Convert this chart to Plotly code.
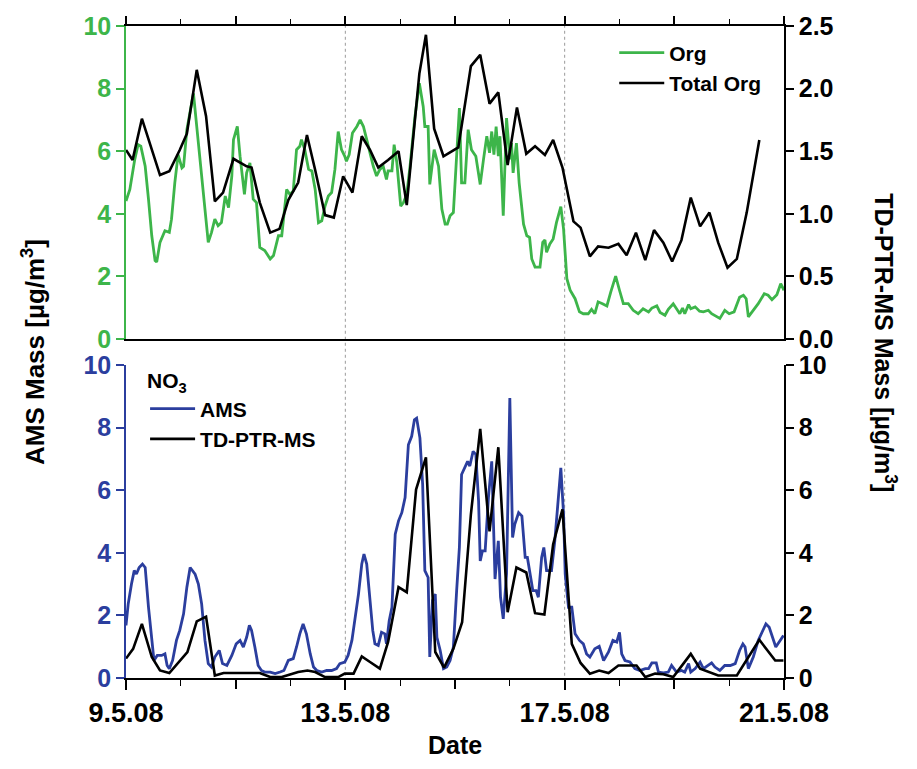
import plotly.graph_objects as go

# ---------------- data (x = day of May 2008) ----------------
org_day = [9.00, 9.07, 9.16, 9.22, 9.27, 9.35, 9.41, 9.47, 9.53, 9.56, 9.62, 9.71, 9.79, 9.83, 9.89, 9.95,
           10.02, 10.05, 10.11, 10.17, 10.23, 10.26, 10.32, 10.38, 10.44, 10.50, 10.56, 10.62, 10.68, 10.74,
           10.81, 10.87, 10.93, 10.96, 11.03, 11.08, 11.16, 11.20, 11.26, 11.32, 11.38, 11.44, 11.53, 11.63,
           11.69, 11.78, 11.84, 11.93, 11.99, 12.05, 12.11, 12.17, 12.20, 12.26, 12.33, 12.39, 12.45, 12.51,
           12.57, 12.63, 12.69, 12.75, 12.81, 12.87, 12.93, 12.99, 13.02, 13.07, 13.13, 13.21, 13.27, 13.33,
           13.39, 13.45, 13.51, 13.57, 13.63, 13.69, 13.75, 13.78, 13.85, 13.89, 13.94, 14.01, 14.06, 14.12,
           14.18, 14.27, 14.35, 14.42, 14.45, 14.51, 14.54, 14.62, 14.70, 14.76, 14.82, 14.86, 14.91, 14.97,
           15.02, 15.08, 15.12, 15.18, 15.24, 15.30, 15.38, 15.46, 15.52, 15.58, 15.63, 15.67, 15.71, 15.75,
           15.79, 15.82, 15.88, 15.94, 16.00, 16.03, 16.06, 16.12, 16.17, 16.25, 16.31, 16.36, 16.40, 16.46,
           16.55, 16.60, 16.64, 16.67, 16.73, 16.79, 16.85, 16.93, 16.98, 17.04, 17.10, 17.19, 17.27, 17.34,
           17.43, 17.49, 17.55, 17.61, 17.69, 17.77, 17.84, 17.93, 18.00, 18.07, 18.16, 18.25, 18.34, 18.43,
           18.53, 18.59, 18.68, 18.74, 18.83, 18.89, 18.98, 19.04, 19.10, 19.15, 19.19, 19.26, 19.30, 19.38,
           19.46, 19.53, 19.62, 19.68, 19.77, 19.83, 19.92, 20.00, 20.09, 20.19, 20.26, 20.31, 20.35, 20.44,
           20.53, 20.64, 20.71, 20.78, 20.87, 20.94, 21.00]
org_ams = [4.41, 4.78, 5.74, 6.21, 6.16, 5.52, 4.47, 3.30, 2.51, 2.46, 3.09, 3.46, 3.41, 3.83, 4.99, 5.89,
           5.47, 5.52, 6.69, 7.22, 7.85, 7.32, 6.26, 5.10, 3.94, 3.09, 3.41, 3.83, 3.62, 3.72,
           4.57, 4.20, 5.21, 6.37, 6.79, 5.84, 4.62, 5.31, 5.63, 4.47, 4.36, 2.93, 2.83, 2.56,
           2.67, 3.30, 3.30, 4.78, 4.62, 4.73, 6.05, 6.16, 6.37, 6.05, 5.42, 5.37, 4.78, 3.72,
           3.78, 4.25, 4.57, 4.68, 5.42, 6.63, 6.05, 5.84, 5.68, 5.89, 6.58, 6.79, 7.00, 6.79,
           6.37, 5.90, 5.52, 5.21, 5.42, 5.52, 5.10, 5.37, 5.37, 6.21, 5.63, 4.25, 4.36, 4.62,
           5.52, 7.11, 8.17, 7.43, 6.79, 6.79, 4.94, 6.05, 5.52, 4.15, 3.67, 3.67, 3.94, 4.04,
           5.63, 7.38, 4.99, 4.99, 6.69, 6.05, 5.84, 4.94, 5.74, 6.48, 5.95, 6.63, 5.89, 6.79,
           5.84, 6.48, 3.94, 7.06, 5.74, 6.26, 5.31, 6.26, 4.99, 3.67, 3.30, 3.25, 2.56, 2.30,
           2.30, 3.09, 3.17, 2.77, 3.04, 3.20, 3.72, 4.23, 3.51, 1.93, 1.56, 1.29, 0.87, 0.81,
           0.81, 0.95, 0.81, 1.19, 1.13, 1.06, 1.50, 2.01, 1.56, 1.13, 1.13, 0.92, 0.81, 0.97,
           0.87, 0.99, 1.06, 0.85, 0.76, 0.95, 1.13, 0.97, 0.81, 0.99, 0.81, 1.10, 0.97, 1.03,
           0.89, 0.87, 0.92, 0.81, 0.71, 0.66, 0.92, 0.81, 0.87, 1.34, 1.40, 1.29, 0.71, 0.92,
           1.13, 1.45, 1.40, 1.26, 1.42, 1.77, 1.56]

tot_day = [9.00, 9.12, 9.29, 9.62, 9.79, 9.98, 10.11, 10.29, 10.46, 10.62, 10.77, 10.96, 11.20, 11.29,
           11.44, 11.63, 11.80, 11.96, 12.14, 12.30, 12.45, 12.63, 12.79, 12.96, 13.13, 13.30, 13.45,
           13.60, 13.78, 13.97, 14.12, 14.35, 14.47, 14.62, 14.79, 15.06, 15.29, 15.46, 15.63, 15.79,
           15.96, 16.13, 16.30, 16.46, 16.64, 16.79, 16.96, 17.16, 17.29, 17.46, 17.61, 17.80, 17.98,
           18.13, 18.30, 18.47, 18.63, 18.80, 18.96, 19.13, 19.30, 19.47, 19.64, 19.80, 19.97, 20.14,
           20.32, 20.55]
tot_ptr = [1.51, 1.43, 1.76, 1.31, 1.34, 1.51, 1.64, 2.15, 1.78, 1.10, 1.17, 1.44, 1.38, 1.37,
           1.09, 0.85, 0.88, 1.11, 1.25, 1.63, 1.35, 0.99, 0.97, 1.30, 1.17, 1.62, 1.51,
           1.37, 1.43, 1.50, 1.07, 2.12, 2.43, 1.68, 1.46, 1.53, 2.18, 2.27, 1.88, 1.97,
           1.39, 1.85, 1.48, 1.54, 1.47, 1.59, 1.37, 0.94, 0.89, 0.66, 0.74, 0.73, 0.76,
           0.67, 0.85, 0.63, 0.87, 0.77, 0.62, 0.79, 1.13, 0.90, 1.01, 0.77, 0.57, 0.64,
           1.01, 1.59]

no3_ams_day = [9.00, 9.04, 9.10, 9.15, 9.19, 9.24, 9.30, 9.35, 9.41, 9.47, 9.51, 9.57, 9.65, 9.71, 9.75,
               9.79, 9.85, 9.92, 9.98, 10.05, 10.11, 10.17, 10.21, 10.26, 10.32, 10.38, 10.44, 10.50,
               10.56, 10.62, 10.70, 10.76, 10.84, 10.93, 11.01, 11.08, 11.14, 11.20, 11.25, 11.29, 11.35,
               11.41, 11.47, 11.53, 11.63, 11.72, 11.81, 11.88, 11.96, 12.05, 12.11, 12.17, 12.23, 12.29,
               12.36, 12.42, 12.48, 12.57, 12.66, 12.75, 12.84, 12.90, 12.99, 13.05, 13.12, 13.18, 13.24,
               13.30, 13.34, 13.39, 13.44, 13.50, 13.54, 13.60, 13.66, 13.72, 13.75, 13.80, 13.85, 13.91,
               13.97, 14.03, 14.09, 14.15, 14.21, 14.26, 14.30, 14.36, 14.41, 14.45, 14.51, 14.54, 14.59,
               14.64, 14.67, 14.73, 14.79, 14.85, 14.91, 14.97, 15.03, 15.08, 15.12, 15.18, 15.23, 15.27,
               15.33, 15.38, 15.43, 15.46, 15.50, 15.55, 15.61, 15.67, 15.73, 15.79, 15.83, 15.88, 15.94,
               16.00, 16.05, 16.09, 16.16, 16.22, 16.28, 16.32, 16.36, 16.42, 16.48, 16.52, 16.58, 16.62,
               16.67, 16.76, 16.82, 16.88, 16.93, 16.98, 17.01, 17.07, 17.13, 17.19, 17.27, 17.34, 17.40,
               17.46, 17.55, 17.63, 17.71, 17.80, 17.88, 17.95, 18.00, 18.04, 18.10, 18.19, 18.28, 18.37,
               18.47, 18.53, 18.59, 18.67, 18.71, 18.80, 18.89, 18.95, 19.04, 19.13, 19.19, 19.26, 19.30,
               19.38, 19.47, 19.53, 19.62, 19.68, 19.74, 19.83, 19.92, 20.02, 20.11, 20.19, 20.25, 20.29,
               20.35, 20.44, 20.53, 20.61, 20.67, 20.73, 20.79, 20.85, 20.93, 20.99]
no3_ams = [1.68, 2.36, 3.00, 3.43, 3.32, 3.53, 3.64, 3.53, 2.26, 1.20, 0.56, 0.72, 0.72, 0.77, 0.40,
           0.30, 0.56, 1.20, 1.52, 2.05, 2.90, 3.53, 3.43, 3.32, 3.00, 2.36, 1.20, 0.46,
           0.35, 0.67, 0.88, 0.46, 0.40, 0.72, 1.09, 1.20, 0.99, 1.30, 1.68, 1.52, 0.99,
           0.40, 0.24, 0.19, 0.19, 0.14, 0.19, 0.24, 0.56, 0.62, 0.99, 1.41, 1.73, 1.41,
           0.77, 0.35, 0.24, 0.19, 0.24, 0.24, 0.30, 0.46, 0.51, 0.72, 1.20, 1.89, 2.68,
           3.64, 3.96, 3.64, 2.58, 1.52, 1.09, 1.04, 1.46, 1.41, 1.09, 1.83, 2.26, 4.59,
           5.02, 5.28, 5.76, 7.45, 7.72, 8.25, 8.30, 7.67, 6.18, 3.43, 3.21, 0.67, 2.47,
           2.68, 1.30, 0.88, 0.30, 0.35, 0.56, 0.99, 2.79, 4.17, 6.50, 6.71, 6.92, 6.77,
           7.24, 7.14, 5.65, 3.74, 4.06, 4.06, 5.76, 6.92, 3.16, 4.38, 2.58, 1.89, 3.32,
           8.94, 4.49, 4.91, 5.28, 5.17, 3.85, 3.85, 3.43, 2.79, 2.79, 2.58, 3.85, 4.17,
           3.43, 3.43, 4.38, 5.76, 6.71, 5.23, 3.32, 2.26, 2.26, 1.41, 1.20, 1.09, 0.77,
           0.67, 0.93, 1.01, 0.56, 0.83, 1.20, 1.15, 1.46, 0.77, 0.56, 0.51, 0.30, 0.24,
           0.30, 0.30, 0.48, 0.48, 0.19, 0.16, 0.19, 0.40, 0.19, 0.24, 0.19, 0.46, 0.19,
           0.30, 0.51, 0.30, 0.40, 0.48, 0.35, 0.24, 0.40, 0.40, 0.46, 0.88, 1.09, 0.99,
           0.30, 0.67, 1.20, 1.52, 1.73, 1.62, 1.30, 0.99, 1.20, 1.36]

no3_ptr_day = [9.00, 9.13, 9.29, 9.47, 9.62, 9.79, 10.12, 10.29, 10.46, 10.62, 10.78, 11.44, 11.63, 11.84,
               12.14, 12.31, 12.45, 12.63, 12.87, 12.99, 13.15, 13.30, 13.45, 13.63, 13.78, 13.97, 14.12,
               14.29, 14.47, 14.64, 14.80, 14.97, 15.13, 15.29, 15.46, 15.63, 15.79, 15.96, 16.12, 16.30,
               16.46, 16.63, 16.79, 16.96, 17.13, 17.29, 17.46, 17.63, 17.80, 17.98, 18.31, 18.47, 18.65,
               18.80, 18.98, 19.30, 19.47, 19.80, 20.14, 20.55, 20.84, 20.99]
no3_ptr = [0.62, 0.93, 1.73, 0.67, 0.24, 0.16, 0.83, 1.81, 1.96, 0.08, 0.16, 0.16, 0.03, 0.03,
           0.19, 0.24, 0.19, 0.03, 0.03, 0.14, 0.14, 0.69, 0.51, 0.30, 1.15, 2.90, 2.74,
           6.02, 7.05, 0.83, 0.33, 0.93, 1.78, 5.23, 7.96, 4.68, 7.37, 2.10, 3.53, 3.37,
           2.07, 2.03, 4.27, 5.39, 1.09, 0.48, 0.14, 0.24, 0.16, 0.40, 0.40, 0.03, 0.14,
           0.12, 0.03, 0.77, 0.30, 0.08, 0.08, 1.22, 0.56, 0.56]

label_days = [9, 13, 17, 21]
label_text = ["9.5.08", "13.5.08", "17.5.08", "21.5.08"]
major_days = [9, 11, 13, 15, 17, 19, 21]
mid_days = [11, 15, 19]
marker_days = [13, 17]

# ---------------- styling ----------------
GREEN = "#3DB54A"
BLUE = "#2B3E9E"
BLACK = "#000000"
FONT = "Liberation Sans"
TFS = 25

fig = go.Figure()
fig.add_trace(go.Scatter(x=org_day, y=org_ams, mode="lines", name="Org",
                         line=dict(color=GREEN, width=2.8), xaxis="x2", yaxis="y3", legend="legend"))
fig.add_trace(go.Scatter(x=tot_day, y=tot_ptr, mode="lines", name="Total Org",
                         line=dict(color=BLACK, width=2.6), xaxis="x2", yaxis="y4", legend="legend"))
fig.add_trace(go.Scatter(x=no3_ams_day, y=no3_ams, mode="lines", name="AMS",
                         line=dict(color=BLUE, width=2.8), xaxis="x", yaxis="y", legend="legend2"))
fig.add_trace(go.Scatter(x=no3_ptr_day, y=no3_ptr, mode="lines", name="TD-PTR-MS",
                         line=dict(color=BLACK, width=2.6), xaxis="x", yaxis="y2", legend="legend2"))
# invisible helper trace so the extra tick axis (long ticks at 11, 15, 19) is drawn
fig.add_trace(go.Scatter(x=[9, 21], y=[None, None], mode="lines", showlegend=False,
                         hoverinfo="skip", xaxis="x3", yaxis="y"))

for d in marker_days:
    fig.add_shape(type="line", xref="x", yref="paper", x0=d, x1=d, y0=-0.015, y1=1.012,
                  line=dict(color="#9a9a9a", width=1, dash="dot"), layer="below")

TOP = [0.5198, 1.0]
BOT = [0.0, 0.4802]

def yax(color, domain, rng, dtick, side, anchor, overlaying=None, fmt=None):
    d = dict(domain=domain, range=rng, dtick=dtick, tick0=0, side=side, anchor=anchor,
             showgrid=False, zeroline=False, showline=True, linecolor=color, linewidth=1.5,
             ticks="outside", ticklen=8, tickcolor=color, tickwidth=1.5,
             tickfont=dict(family=FONT, size=TFS, color=color, weight="bold"), fixedrange=True)
    if overlaying:
        d["overlaying"] = overlaying
    if fmt:
        d["tickformat"] = fmt
    return d

fig.update_layout(
    width=917, height=769,
    margin=dict(l=126, r=133, t=22, b=91),
    plot_bgcolor="white", paper_bgcolor="white",
    showlegend=True,
    xaxis=dict(domain=[0, 1], anchor="y", range=[9, 21], tickmode="array", tickvals=label_days,
               ticktext=label_text, ticks="outside", ticklen=10, tickwidth=1.5, tickcolor=BLACK,
               minor=dict(dtick=1, tick0=9, ticks="outside", ticklen=6, tickcolor=BLACK, tickwidth=1.2),
               showline=True, linecolor=BLACK, linewidth=1.5, showgrid=False, zeroline=False,
               tickfont=dict(family=FONT, size=27, color=BLACK, weight="bold")),
    xaxis3=dict(domain=[0, 1], anchor="y", overlaying="x", range=[9, 21], matches="x",
                tickmode="array", tickvals=mid_days, showticklabels=False, ticks="outside",
                ticklen=10, tickwidth=1.5, tickcolor=BLACK, showline=False, showgrid=False,
                zeroline=False),
    xaxis2=dict(domain=[0, 1], anchor="y3", range=[9, 21], matches="x", side="top",
                tickmode="array", tickvals=major_days, showticklabels=False,
                ticks="outside", ticklen=8, tickwidth=1.5, tickcolor=BLACK,
                minor=dict(dtick=1, tick0=9, ticks="outside", ticklen=5, tickcolor=BLACK, tickwidth=1.2),
                showline=True, mirror=True, linecolor=BLACK, linewidth=1.5, showgrid=False, zeroline=False),
    yaxis=yax(BLUE, BOT, [0, 10], 2, "left", "x"),
    yaxis2=yax(BLACK, BOT, [0, 10], 2, "right", "x", overlaying="y"),
    yaxis3=yax(GREEN, TOP, [0, 10], 2, "left", "x2"),
    yaxis4=yax(BLACK, TOP, [0, 2.5], 0.5, "right", "x2", overlaying="y3", fmt=".1f"),
    legend=dict(x=0.742, y=0.99, xanchor="left", yanchor="top", bgcolor="rgba(0,0,0,0)",
                itemwidth=45, font=dict(family=FONT, size=21, color=BLACK, weight="bold"),
                tracegroupgap=0),
    legend2=dict(x=0.029, y=0.486, xanchor="left", yanchor="top", bgcolor="rgba(0,0,0,0)",
                 itemwidth=45,
                 title=dict(text="NO<sub>3</sub>", font=dict(family=FONT, size=21, color=BLACK, weight="bold")),
                 font=dict(family=FONT, size=21, color=BLACK, weight="bold"), tracegroupgap=0),
    annotations=[
        dict(text="AMS Mass [µg/m<sup>3</sup>]", textangle=-90, xref="paper", yref="paper",
             x=-0.1413, y=0.50, xanchor="center", yanchor="middle", showarrow=False,
             font=dict(family=FONT, size=26, color=BLACK, weight="bold")),
        dict(text="TD-PTR-MS Mass [µg/m<sup>3</sup>]", textangle=90, xref="paper", yref="paper",
             x=1.1535, y=0.515, xanchor="center", yanchor="middle", showarrow=False,
             font=dict(family=FONT, size=25, color=BLACK, weight="bold")),
        dict(text="Date", xref="paper", yref="paper", x=0.5, y=-0.102, xanchor="center",
             yanchor="middle", showarrow=False,
             font=dict(family=FONT, size=25, color=BLACK, weight="bold")),
    ],
)

fig.write_html("out.html")
